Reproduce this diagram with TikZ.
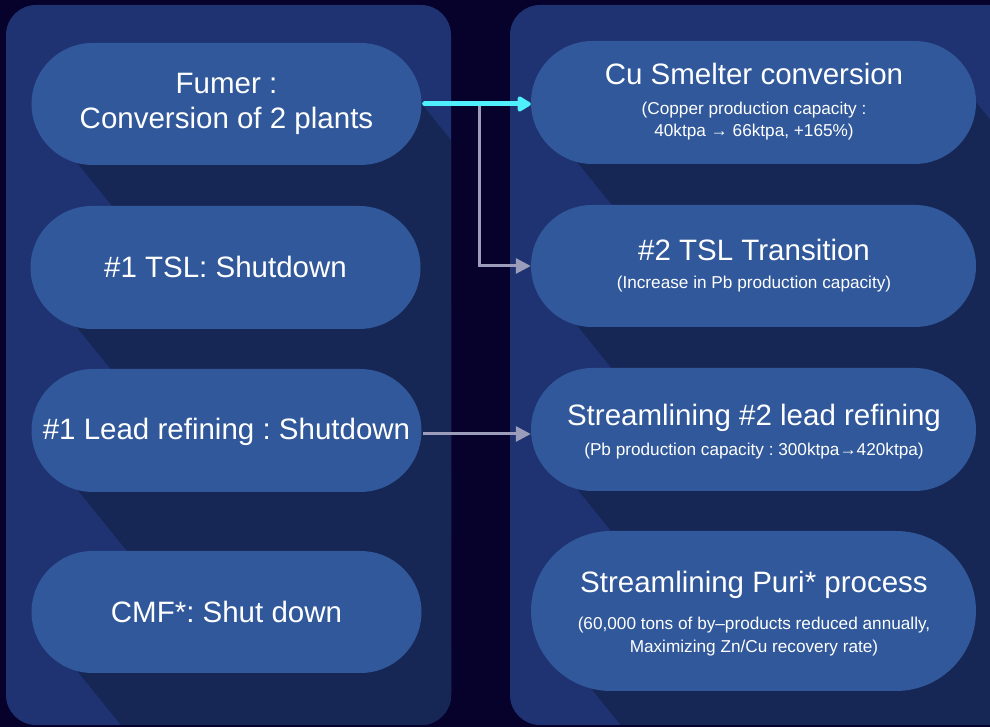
\documentclass[tikz,border=0pt]{standalone}
\usepackage{fontspec}
\setmainfont{Liberation Sans}
\usetikzlibrary{calc,arrows.meta}
\definecolor{bgc}{HTML}{06022B}
\definecolor{panelc}{HTML}{1F3271}
\definecolor{pillc}{HTML}{30589A}
\definecolor{shadowc}{HTML}{172755}
\definecolor{grayc}{HTML}{9B9DBB}
\definecolor{cyanc}{HTML}{4FF0FC}
\pgfdeclarelayer{back}
\pgfdeclarelayer{shade}
\pgfsetlayers{back,shade,main}
\frenchspacing
\begin{document}
\begin{tikzpicture}[x=1pt,y=1pt,
  pill/.style={fill=pillc, draw=none, inner sep=0pt, minimum width=#1},
  ttl/.style={text=white, font=\frenchspacing\fontsize{29.5}{35}\selectfont, anchor=base, inner sep=0pt},
  subt/.style={text=white, font=\frenchspacing\fontsize{17.2}{22}\selectfont, anchor=base, inner sep=0pt},
  grayarr/.style={draw=grayc, line width=3pt, -{Triangle[length=15pt,width=15pt]}},
  cyanarr/.style={draw=cyanc, line width=5pt, line cap=round, -{Triangle[length=15pt,width=17pt,round]}},
  shadowfill/.style={fill=shadowc, draw=none}
]
\useasboundingbox (0,0) rectangle (990,727);
\begin{pgfonlayer}{back}
\fill[bgc] (0,0) rectangle (990,727);
\fill[panelc, rounded corners=30pt] (6,2) rectangle (451,722);
\fill[panelc, rounded corners=30pt] (510,2) rectangle (1020,722);
\end{pgfonlayer}

% left pills
\node[pill=390pt, minimum height=122pt, rounded corners=61pt] (L1) at (226.5,623) {};
\node[pill=390pt, minimum height=123pt, rounded corners=61.5pt] (L2) at (225.5,459.5) {};
\node[pill=390pt, minimum height=123pt, rounded corners=61.5pt] (L3) at (226.5,296.5) {};
\node[pill=390pt, minimum height=122pt, rounded corners=61pt] (L4) at (226.5,115) {};
% right pills
\node[pill=445pt, minimum height=123pt, rounded corners=61.5pt] (R1) at (753.5,624.5) {};
\node[pill=445pt, minimum height=122pt, rounded corners=61pt] (R2) at (753.5,461) {};
\node[pill=445pt, minimum height=123pt, rounded corners=61.5pt] (R3) at (753.5,297.5) {};
\node[pill=445pt, minimum height=160pt, rounded corners=80pt] (R4) at (753.5,116) {};

% long shadows
\begin{pgfonlayer}{shade}
\begin{scope}
\clip[rounded corners=30pt] (6,2) rectangle (451,722);
\foreach \p/\r in {L1/61,L2/61.5,L3/61.5,L4/61}{
  \fill[shadowfill] (\p.east) -- ($(\p.east)+(-51:500)$)
    -- ($(\p.south west)+(\r,\r)+(-104:\r)+(-51:500)$)
    -- ($(\p.south west)+(\r,\r)+(-104:\r)$) -- (\p.center) -- cycle;
}
\end{scope}
\begin{scope}
\clip[rounded corners=30pt] (510,2) rectangle (1020,722);
\foreach \p/\r in {R1/61.5,R2/61,R3/61.5,R4/80}{
  \fill[shadowfill] (\p.east) -- ($(\p.east)+(-51:500)$)
    -- ($(\p.south west)+(\r,\r)+(-104:\r)+(-51:500)$)
    -- ($(\p.south west)+(\r,\r)+(-104:\r)$) -- (\p.center) -- cycle;
}
\end{scope}
\end{pgfonlayer}

% texts left
\node[ttl] (L1a) at (226.5,633) {Fumer :};
\node[ttl] (L1b) at (226.5,598) {Conversion of 2 plants};
\node[ttl] (L2a) at (225.5,449) {\#1 TSL: Shutdown};
\node[ttl] (L3a) at (226.5,287) {\#1 Lead refining : Shutdown};
\node[ttl] (L4a) at (226.5,104) {CMF*: Shut down};
% texts right
\node[ttl] (R1a) at (754,642) {Cu Smelter conversion};
\node[subt] (R1b) at (754,612) {(Copper production capacity :};
\node[subt] (R1c) at (754,590) {40ktpa → 66ktpa, +165\%)};
\node[ttl] (R2a) at (754,466) {\#2 TSL Transition};
\node[subt] (R2b) at (754,438) {(Increase in Pb production capacity)};
\node[ttl] (R3a) at (754,301) {Streamlining \#2 lead refining};
\node[subt] (R3b) at (754,271) {(Pb production capacity : 300ktpa→420ktpa)};
\node[ttl] (R4a) at (754,134) {Streamlining Puri* process};
\node[subt] (R4b) at (754,97) {(60,000 tons of by–products reduced annually,};
\node[subt] (R4c) at (754,74.5) {Maximizing Zn/Cu recovery rate)};

% connectors
\coordinate (br) at (479,621);
\coordinate (l3out) at ($(L3.east)+(1,-3.5)$);
\draw[grayarr] (br) |- (R2.west);
\draw[grayarr] (l3out) -- (R3.west |- l3out);
\draw[cyanarr, shorten <=3pt] (L1.east) -- (R1.west |- L1.east);
\end{tikzpicture}
\end{document}
